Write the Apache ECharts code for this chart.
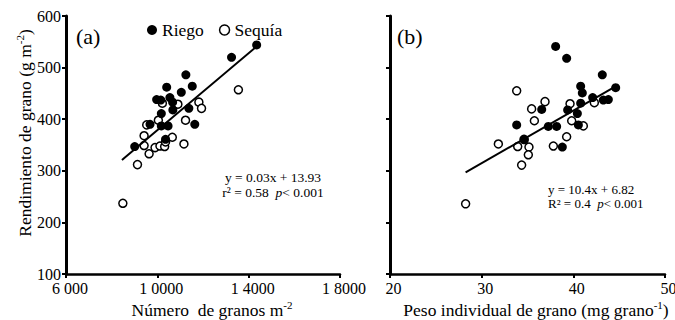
<!DOCTYPE html>
<html>
<head>
<meta charset="utf-8">
<script src="https://cdn.jsdelivr.net/npm/echarts@6/dist/echarts.min.js"></script>
<style>
html,body{margin:0;padding:0;background:#fff;}
#chart{width:675px;height:320px;}
</style>
</head>
<body>
<div id="chart"></div>
<script>
// ---- Data ----
const xTicksA = [6000, 10000, 14000, 18000];
const xTickLabelsA = ['6 000', '1 0000', '1 4000', '1 8000'];
const xTicksB = [20, 30, 40, 50];
const yTicks = [100, 200, 300, 400, 500, 600];

// Panel (a): Número de granos m-2 vs rendimiento
const riegoA = [
  [14350, 544], [13250, 520], [11250, 486], [10410, 462], [11530, 464],
  [11050, 452], [9970, 438], [10150, 437], [10550, 442], [10670, 433],
  [10680, 418], [10175, 411], [11380, 421], [10175, 387], [10470, 387],
  [9680, 390], [11640, 390], [10360, 361], [9010, 347]
];
const sequiaA = [
  [8490, 237], [9130, 312], [9640, 333], [9420, 349], [9420, 368],
  [9535, 389], [9900, 345], [10115, 348], [10320, 347], [10360, 356],
  [10655, 365], [11165, 352], [11235, 398], [10900, 429], [11820, 433],
  [11935, 421], [13550, 457], [10045, 398], [10220, 431]
];
const fitA = [[8450, 321], [14350, 541]];

// Panel (b): Peso individual de grano vs rendimiento
const riegoB = [
  [38.07, 541], [39.27, 518], [43.16, 486], [44.62, 461], [40.80, 464],
  [40.98, 451], [42.11, 442], [43.27, 437], [43.82, 438], [40.80, 431],
  [39.38, 418], [40.44, 411], [36.55, 419], [33.82, 389], [37.27, 386],
  [38.18, 386], [40.55, 389], [34.65, 360], [38.80, 346]
];
const sequiaB = [
  [28.25, 236], [31.82, 352], [33.82, 455], [33.93, 347], [34.62, 361],
  [35.16, 346], [35.09, 331], [34.36, 311], [35.45, 420], [35.75, 397],
  [36.91, 434], [37.82, 348], [39.27, 366], [39.64, 430], [39.82, 397],
  [41.09, 387], [42.29, 432]
];
const fitB = [[28.25, 297], [44.47, 462]];

// ---- Chart ----
const FONT = '"Liberation Serif", "Times New Roman", serif';
const chart = echarts.init(document.getElementById('chart'), null, {renderer: 'svg'});

function xAxisCommon(gridIndex) {
  return {
    gridIndex: gridIndex,
    type: 'value',
    axisLine: {show: true, lineStyle: {color: '#000', width: 2.5}},
    axisTick: {show: true, length: 4, lineStyle: {color: '#000', width: 2}},
    splitLine: {show: false},
    axisLabel: {color: '#000', fontFamily: FONT, fontSize: 16, margin: 6, padding: [0, 0, 0, 8]}
  };
}
function yAxisCommon(gridIndex, showLabels) {
  return {
    gridIndex: gridIndex,
    type: 'value',
    min: yTicks[0], max: yTicks[yTicks.length - 1], interval: 100,
    axisLine: {show: true, lineStyle: {color: '#000', width: 3}},
    axisTick: {show: true, length: 4, lineStyle: {color: '#000', width: 2}},
    splitLine: {show: false},
    axisLabel: {show: showLabels, color: '#000', fontFamily: FONT, fontSize: 16, margin: 5}
  };
}

const filledStyle = {color: '#000', borderColor: '#000', borderWidth: 0, opacity: 1};
const openStyle = {color: '#fff', borderColor: '#000', borderWidth: 1.5, opacity: 1};
const legendText = {color: '#000', fontFamily: FONT, fontSize: 17.5};

const option = {
  backgroundColor: '#fff',
  animation: false,
  grid: [
    {left: 66, top: 16, width: 274, height: 258, containLabel: false, outerBoundsMode: 'none'},
    {left: 390, top: 16, width: 275, height: 258, containLabel: false, outerBoundsMode: 'none'}
  ],
  xAxis: [
    Object.assign(xAxisCommon(0), {
      min: xTicksA[0], max: xTicksA[xTicksA.length - 1], interval: 4000,
      axisLabel: Object.assign(xAxisCommon(0).axisLabel, {
        formatter: function (v) {
          const i = xTicksA.indexOf(v);
          return i >= 0 ? xTickLabelsA[i] : '';
        }
      })
    }),
    Object.assign(xAxisCommon(1), {
      min: xTicksB[0], max: xTicksB[xTicksB.length - 1], interval: 10,
      axisLabel: Object.assign(xAxisCommon(1).axisLabel, {padding: [0, 0, 0, 7]})
    })
  ],
  yAxis: [yAxisCommon(0, true), yAxisCommon(1, false)],
  legend: {
    left: 142, top: 16,
    itemWidth: 10, itemHeight: 10, itemGap: 15,
    icon: 'circle',
    textStyle: legendText,
    data: [
      {name: 'Riego', itemStyle: filledStyle, textStyle: legendText},
      {name: 'Sequía', itemStyle: openStyle, textStyle: legendText}
    ]
  },
  series: [
    {name: 'Sequía', type: 'scatter', xAxisIndex: 0, yAxisIndex: 0, data: sequiaA,
     symbol: 'circle', symbolSize: 8, itemStyle: openStyle, z: 2},
    {name: 'Riego', type: 'scatter', xAxisIndex: 0, yAxisIndex: 0, data: riegoA,
     symbol: 'circle', symbolSize: 9, itemStyle: filledStyle, z: 3},
    {name: 'fitA', type: 'line', xAxisIndex: 0, yAxisIndex: 0, data: fitA,
     showSymbol: false, symbol: 'none', lineStyle: {color: '#000', width: 2, opacity: 1}, silent: true, z: 4},
    {name: 'Sequía', type: 'scatter', xAxisIndex: 1, yAxisIndex: 1, data: sequiaB,
     symbol: 'circle', symbolSize: 8, itemStyle: openStyle, z: 2},
    {name: 'Riego', type: 'scatter', xAxisIndex: 1, yAxisIndex: 1, data: riegoB,
     symbol: 'circle', symbolSize: 9, itemStyle: filledStyle, z: 3},
    {name: 'fitB', type: 'line', xAxisIndex: 1, yAxisIndex: 1, data: fitB,
     showSymbol: false, symbol: 'none', lineStyle: {color: '#000', width: 2, opacity: 1}, silent: true, z: 4}
  ],
  graphic: [
    {type: 'text', left: 76, top: 25, style: {text: '(a)', fontFamily: FONT, fontSize: 22, fill: '#000'}},
    {type: 'text', left: 397, top: 25, style: {text: '(b)', fontFamily: FONT, fontSize: 22, fill: '#000'}},
    {type: 'text', x: 273, y: 177, style: {
      text: 'y = 0.03x + 13.93', fontFamily: FONT, fontSize: 13.5, fill: '#000',
      align: 'center', verticalAlign: 'middle'}},
    {type: 'text', x: 273, y: 192.5, style: {
      text: '{n|r² = 0.58  }{i|p}{n|< 0.001}', fill: '#000',
      align: 'center', verticalAlign: 'middle',
      rich: {
        n: {fontFamily: FONT, fontSize: 13.5, fill: '#000'},
        i: {fontFamily: FONT, fontSize: 13.5, fontStyle: 'italic', fill: '#000'}
      }}},
    {type: 'text', x: 548, y: 189, style: {
      text: 'y = 10.4x + 6.82', fontFamily: FONT, fontSize: 13, fill: '#000',
      align: 'left', verticalAlign: 'middle'}},
    {type: 'text', x: 548, y: 203, style: {
      text: '{n|R² = 0.4  }{i|p}{n|< 0.001}', fill: '#000',
      align: 'left', verticalAlign: 'middle',
      rich: {
        n: {fontFamily: FONT, fontSize: 13, fill: '#000', lineHeight: 13},
        i: {fontFamily: FONT, fontSize: 13, fontStyle: 'italic', fill: '#000', lineHeight: 13}
      }}},
    {type: 'text', x: 24, y: 133, rotation: Math.PI / 2, style: {
      text: '{n|Rendimiento de grano (g m}{s|-2}{n|)}', fill: '#000',
      align: 'center', verticalAlign: 'middle',
      rich: {
        n: {fontFamily: FONT, fontSize: 17.5, fill: '#000', lineHeight: 20, verticalAlign: 'bottom'},
        s: {fontFamily: FONT, fontSize: 11, fill: '#000', lineHeight: 20, verticalAlign: 'top'}
      }}},
    {type: 'text', x: 212, y: 309, style: {
      text: '{n|Número  de granos m}{s|-2}', fill: '#000',
      align: 'center', verticalAlign: 'middle',
      rich: {
        n: {fontFamily: FONT, fontSize: 17.5, fill: '#000', lineHeight: 20, verticalAlign: 'bottom'},
        s: {fontFamily: FONT, fontSize: 11, fill: '#000', lineHeight: 20, verticalAlign: 'top'}
      }}},
    {type: 'text', x: 536, y: 309, style: {
      text: '{n|Peso individual de grano (mg grano}{s|-1}{n|)}', fill: '#000',
      align: 'center', verticalAlign: 'middle',
      rich: {
        n: {fontFamily: FONT, fontSize: 17.5, fill: '#000', lineHeight: 20, verticalAlign: 'bottom'},
        s: {fontFamily: FONT, fontSize: 11, fill: '#000', lineHeight: 20, verticalAlign: 'top'}
      }}}
  ]
};
chart.setOption(option);
</script>
</body>
</html>
